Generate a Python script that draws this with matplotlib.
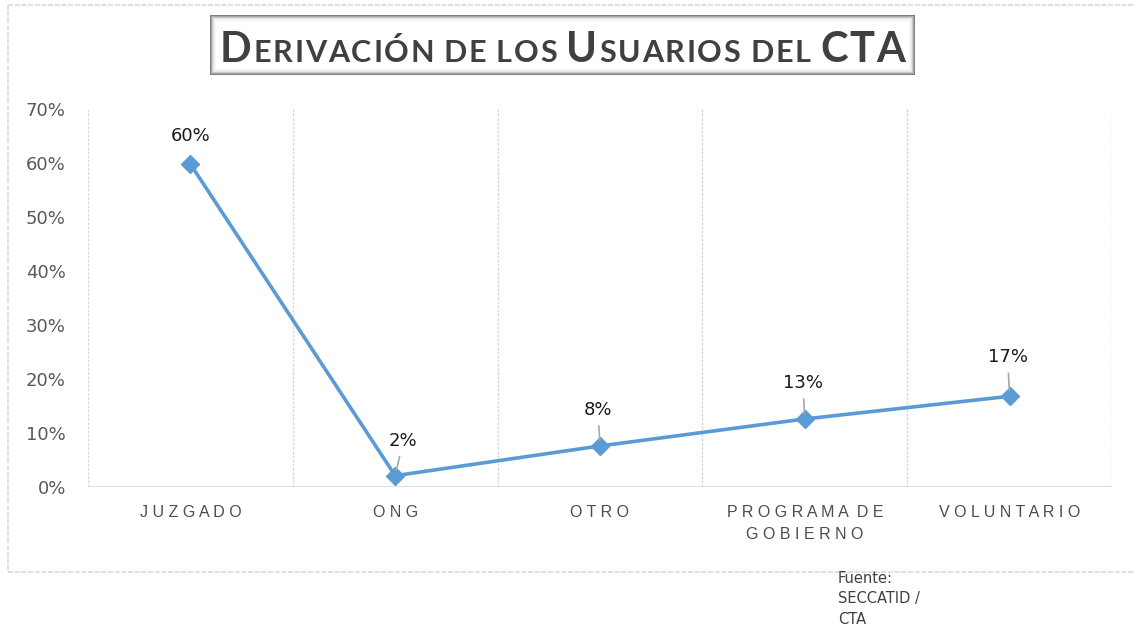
import matplotlib
matplotlib.use("Agg")
import matplotlib.pyplot as plt
from matplotlib.patches import Rectangle
from matplotlib.lines import Line2D
from matplotlib.ticker import FuncFormatter

# data
categorias = ["JUZGADO", "ONG", "OTRO", "PROGRAMA DE\nGOBIERNO", "VOLUNTARIO"]
valores = [0.598, 0.021, 0.076, 0.126, 0.168]
y_ticks = [0, 0.1, 0.2, 0.3, 0.4, 0.5, 0.6, 0.7]
titulo = [("D", True), ("ERIVACIÓN ", False), ("DE LOS ", False), ("U", True),
          ("SUARIOS ", False), ("DEL ", False), ("CTA", True)]
fuente = "Fuente:\nSECCATID /\nCTA"

W, H = 1135, 628
fig = plt.figure(figsize=(W / 100, H / 100), dpi=100)
fig.patch.set_facecolor("white")

def px(x, y):
    return x / W, 1 - y / H

# outer chart border (left, top, bottom only - right side is cut off)
for xa, ya in [((8, 8), (5, 572)), ((8, 1135), (5, 5)), ((8, 1135), (572, 572))]:
    fig.lines.append(Line2D([xa[0] / W, xa[1] / W], [1 - ya[0] / H, 1 - ya[1] / H],
                            transform=fig.transFigure, color="#D9D9D9", lw=1.2,
                            ls=(0, (3, 1))))

# plot area
x0, y0 = px(88, 487)
ax = fig.add_axes([x0, y0, (1112 - 88) / W, (487 - 109) / H])
ax.set_facecolor("none")
n = len(categorias)
xs = list(range(n))
ax.set_xlim(-0.5, n - 0.5)
ax.set_ylim(0, 0.7)

for b in [i - 0.5 for i in range(n + 1)]:
    ax.axvline(b, color="#D9D9D9", lw=1, ls=(0, (2, 1)), zorder=0)
for s in ax.spines.values():
    s.set_visible(False)
ax.axhline(0, color="#D9D9D9", lw=1.2, zorder=0)

ax.plot(xs, valores, color="#5B9BD5", lw=2.6, marker="D", markersize=9,
        markerfacecolor="#5B9BD5", markeredgecolor="#5B9BD5", zorder=3)

ax.set_yticks(y_ticks)
ax.yaxis.set_major_formatter(FuncFormatter(lambda v, p: "{:.0%}".format(v)))
ax.tick_params(axis="y", length=0, pad=16, labelsize=13, labelcolor="#595959")
ax.set_xticks(xs)
ax.set_xticklabels([])
ax.tick_params(axis="x", length=0)
for lab in ax.get_yticklabels():
    lab.set_family("DejaVu Sans")

# spaced category labels
for i, c in enumerate(categorias):
    lines = []
    for line in c.split("\n"):
        lines.append("  ".join(" ".join(list(w)) for w in line.split(" ")))
    ax.annotate("\n".join(lines), (i, 0), xytext=(0, -18), textcoords="offset pixels",
                ha="center", va="top", fontsize=11.5, color="#4d4d4d",
                family="Liberation Sans", linespacing=1.55)

# data labels with leader lines
offs = [(0, 28), (8, 35), (-2, 36), (-2, 36), (-2, 39)]
for i, v in enumerate(valores):
    arrow = None
    if i > 0:
        arrow = dict(arrowstyle="-", color="#A6A6A6", lw=1.2, shrinkA=3, shrinkB=4)
    ax.annotate("{:.0%}".format(v), (i, v), xytext=offs[i], textcoords="offset pixels",
                ha="center", va="center", fontsize=13, color="#1a1a1a",
                family="DejaVu Sans", arrowprops=arrow, zorder=4)

# title box with bevel look
bx, by, bw, bh = 210, 15, 705, 60
shades = ["#7f7f7f", "#a6a6a6", "#c8c8c8", "#e4e4e4", "#f4f4f4"]
for k, col in enumerate(shades):
    fig.patches.append(Rectangle(px(bx + k, by + bh - k), (bw - 2 * k) / W, (bh - 2 * k) / H,
                                 transform=fig.transFigure, facecolor=col, edgecolor="none"))
fig.patches.append(Rectangle(px(bx + 6, by + bh - 6), (bw - 12) / W, (bh - 12) / H,
                             transform=fig.transFigure, facecolor="white", edgecolor="none"))

# small caps title, letter by letter, tracking chosen so it fits 685 px
fig.canvas.draw()
r = fig.canvas.get_renderer()
big, small = 30, 22
letras = []
for t, is_big in titulo:
    for ch in t:
        tx = fig.text(0, 0, ch, fontsize=big if is_big else small, fontweight="bold",
                      color="#404040", family="Lato")
        w = tx.get_window_extent(r).width
        if ch == " ":
            w = 6
        letras.append((tx, w))
ancho = 685
track = (ancho - sum(w for tx, w in letras)) / (len(letras) - 1)
xcur = 220
for tx, w in letras:
    tx.set_position(px(xcur, 62))
    xcur += w + track

fig.text(838 / W, 1 - 571 / H, fuente, fontsize=10.5, color="#404040",
         family="DejaVu Sans", va="top", ha="left", linespacing=1.45)

fig.savefig("out.png", dpi=100)
